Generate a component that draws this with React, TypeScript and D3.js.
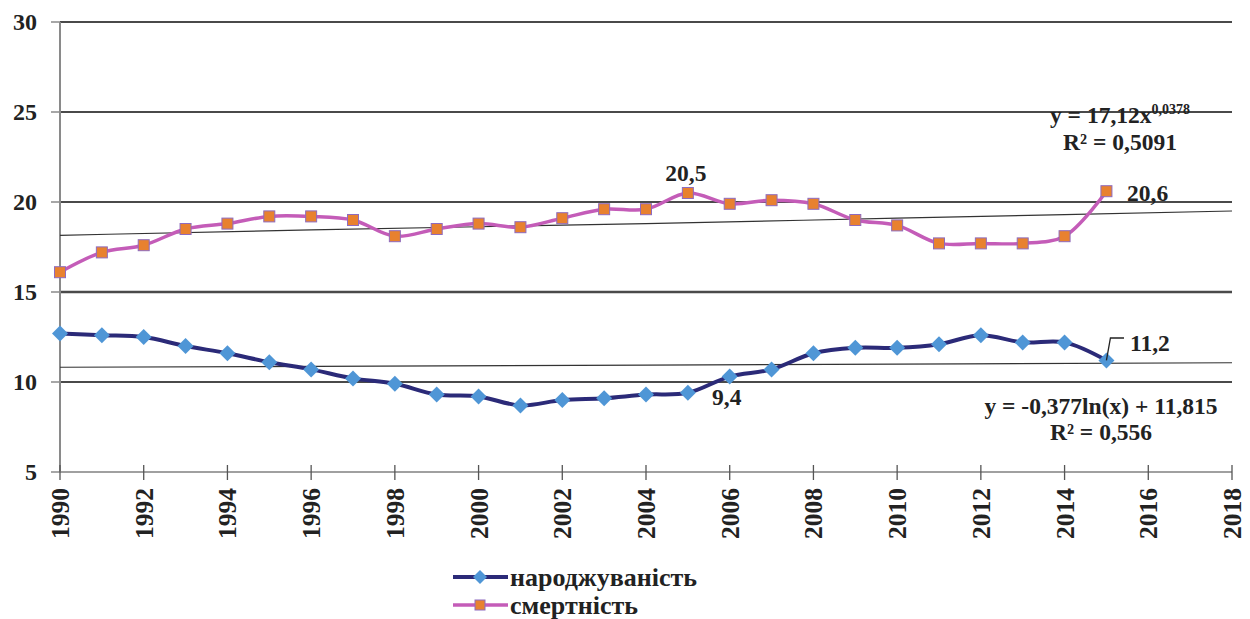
import React from "react";
import * as d3 from "d3";

const years = [1990,1991,1992,1993,1994,1995,1996,1997,1998,1999,2000,2001,2002,2003,2004,2005,2006,2007,2008,2009,2010,2011,2012,2013,2014,2015];
const birthRate = [12.7,12.6,12.5,12.0,11.6,11.1,10.7,10.2,9.9,9.3,9.2,8.7,9.0,9.1,9.3,9.4,10.3,10.7,11.6,11.9,11.9,12.1,12.6,12.2,12.2,11.2];
const deathRate = [16.1,17.2,17.6,18.5,18.8,19.2,19.2,19.0,18.1,18.5,18.8,18.6,19.1,19.6,19.6,20.5,19.9,20.1,19.9,19.0,18.7,17.7,17.7,17.7,18.1,20.6];

const birthTrendYears = [1990, 2004, 2018];
const birthTrendVals = [10.82, 10.94, 11.07];
const deathTrendYears = [1990, 1996, 2004, 2010, 2018];
const deathTrendVals = [18.15, 18.45, 18.8, 19.1, 19.5];

const yTicks = [5, 10, 15, 20, 25, 30];
const xTicks = [1990,1992,1994,1996,1998,2000,2002,2004,2006,2008,2010,2012,2014,2016,2018];
const seriesNames = ["народжуваність", "смертність"];

const FONT = `"Liberation Serif", "Tinos", "Times New Roman", serif`;

export default function App() {
  const x = d3.scaleLinear().domain([1990, 2018]).range([60, 1232]);
  const y = d3.scaleLinear().domain([5, 30]).range([472, 22]);

  const smooth = d3.line<[number, number]>().x(d => x(d[0])).y(d => y(d[1])).curve(d3.curveCatmullRom.alpha(0.5));
  const straight = d3.line<[number, number]>().x(d => x(d[0])).y(d => y(d[1])).curve(d3.curveMonotoneX);

  const birthPts: [number, number][] = years.map((yr, i) => [yr, birthRate[i]]);
  const deathPts: [number, number][] = years.map((yr, i) => [yr, deathRate[i]]);
  const bTrend: [number, number][] = birthTrendYears.map((yr, i) => [yr, birthTrendVals[i]]);
  const dTrend: [number, number][] = deathTrendYears.map((yr, i) => [yr, deathTrendVals[i]]);

  const navy = "#2b2a78";
  const diamond = "#4f96d6";
  const magenta = "#c45cb8";
  const orange = "#e8812f";
  const sqStroke = "#8e6bbf";

  const diamondPath = (cx: number, cy: number, r: number) => `M${cx},${cy - r}L${cx + r},${cy}L${cx},${cy + r}L${cx - r},${cy}Z`;

  const last = years.length - 1;
  const i2005 = years.indexOf(2005);
  const fmt = (v: number) => String(v).replace(".", ",");
  const ts: React.CSSProperties = { fontFamily: FONT, fontWeight: 700 };

  return (
    <div style={{ position: "fixed", left: 0, top: 0 }}>
      <svg width={1250} height={619} style={{ display: "block", background: "#fff", fontFamily: FONT }}>
        {yTicks.filter(t => t > 5).map(t => (
          <line key={"g" + t} x1={x(1990)} x2={x(2018)} y1={y(t)} y2={y(t)} stroke="#4a4a4a" strokeWidth={t === 15 ? 2.6 : 1.8} />
        ))}
        <line x1={x(1990)} x2={x(1990)} y1={y(30)} y2={y(5)} stroke="#8a8a8a" strokeWidth={2} />
        <line x1={x(1990)} x2={x(2018)} y1={y(5)} y2={y(5)} stroke="#a0a0a0" strokeWidth={2} />
        {yTicks.map(t => (
          <g key={"yt" + t}>
            <line x1={51} x2={x(1990)} y1={y(t)} y2={y(t)} stroke="#8a8a8a" strokeWidth={1.5} />
            <text x={37} y={y(t)} dy="0.35em" textAnchor="end" fontSize={24} style={ts} fill="#222">{t}</text>
          </g>
        ))}
        {xTicks.map(t => (
          <g key={"xt" + t}>
            <line x1={x(t)} x2={x(t)} y1={y(5) - 7} y2={y(5) + 8} stroke="#555" strokeWidth={1.3} />
            <text transform={`translate(${x(t)},488) rotate(-90)`} textAnchor="end" dy="0.35em" fontSize={25.5} style={ts} fill="#222">{t}</text>
          </g>
        ))}
        <path d={straight(dTrend) || ""} fill="none" stroke="#333" strokeWidth={1.2} />
        <path d={straight(bTrend) || ""} fill="none" stroke="#333" strokeWidth={1.2} />
        <path d={smooth(deathPts) || ""} fill="none" stroke={magenta} strokeWidth={3.5} />
        <path d={smooth(birthPts) || ""} fill="none" stroke={navy} strokeWidth={4} />
        {deathPts.map((p, i) => (
          <rect key={"s" + i} x={x(p[0]) - 5.5} y={y(p[1]) - 5.5} width={11} height={11} fill={orange} stroke={sqStroke} strokeWidth={1} />
        ))}
        {birthPts.map((p, i) => (
          <path key={"d" + i} d={diamondPath(x(p[0]), y(p[1]), 8)} fill={diamond} />
        ))}
        <text x={x(2005) - 2} y={181} textAnchor="middle" fontSize={23.5} style={ts} fill="#222">{fmt(deathRate[i2005])}</text>
        <text x={712} y={405} fontSize={23.5} style={ts} fill="#222">{fmt(birthRate[i2005])}</text>
        <text x={1127} y={201} fontSize={23.5} style={ts} fill="#222">{fmt(deathRate[last])}</text>
        <path d={`M${x(years[last])},${y(birthRate[last])}L${x(years[last]) + 4},338L1124,338`} fill="none" stroke="#222" strokeWidth={1.3} />
        <text x={1130} y={351} fontSize={23.5} style={ts} fill="#222">{fmt(birthRate[last])}</text>
        <text x={1120} y={123} textAnchor="middle" fontSize={23.5} style={ts} fill="#222">
          y = 17,12x<tspan fontSize={14} dy={-9}>0,0378</tspan>
        </text>
        <text x={1120} y={150} textAnchor="middle" fontSize={23.5} style={ts} fill="#222">R² = 0,5091</text>
        <text x={1101} y={414} textAnchor="middle" fontSize={23.5} style={ts} fill="#222">y = -0,377ln(x) + 11,815</text>
        <text x={1101} y={440} textAnchor="middle" fontSize={23.5} style={ts} fill="#222">R² = 0,556</text>
        <line x1={453} x2={508} y1={577} y2={577} stroke={navy} strokeWidth={4} />
        <path d={diamondPath(480, 577, 7)} fill={diamond} />
        <text x={510} y={577} dy="0.35em" fontSize={26} style={ts} fill="#222">{seriesNames[0]}</text>
        <line x1={453} x2={508} y1={605} y2={605} stroke={magenta} strokeWidth={3.5} />
        <rect x={475} y={600} width={10} height={10} fill={orange} stroke={sqStroke} strokeWidth={1} />
        <text x={510} y={605} dy="0.35em" fontSize={26} style={ts} fill="#222">{seriesNames[1]}</text>
      </svg>
    </div>
  );
}
